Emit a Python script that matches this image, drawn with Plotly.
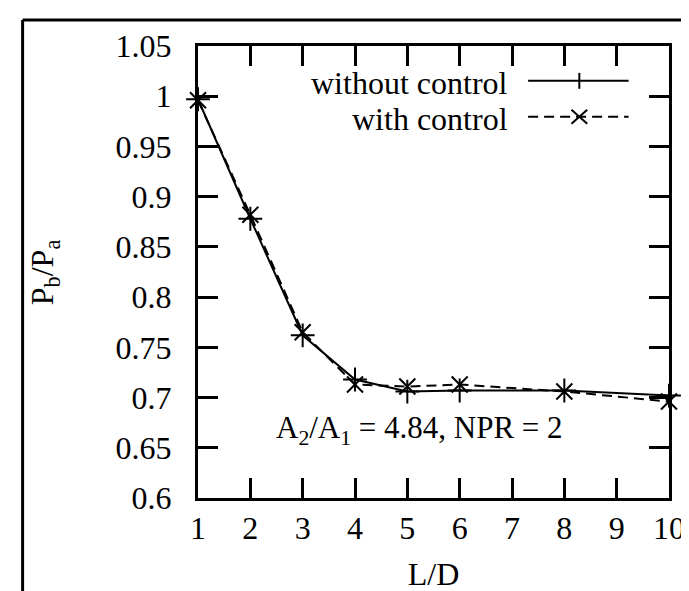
import plotly.graph_objects as go

# ---- data ----
ld = [1, 2, 3, 4, 5, 6, 8, 10]
without_control = [0.997, 0.878, 0.762, 0.718, 0.706, 0.707, 0.707, 0.702]
with_control = [0.996, 0.882, 0.765, 0.713, 0.711, 0.713, 0.706, 0.696]
y_ticks = [0.6, 0.65, 0.7, 0.75, 0.8, 0.85, 0.9, 0.95, 1.0, 1.05]
y_tick_text = ["0.6", "0.65", "0.7", "0.75", "0.8", "0.85", "0.9", "0.95", "1", "1.05"]
x_ticks = [1, 2, 3, 4, 5, 6, 7, 8, 9, 10]

FONT = "Liberation Serif"
W, H = 689, 591
L, R, T, B = 190, 668, 38, 492  # plot area in pixels


def px(x):
    return (x - L) / (R - L)


def py(y):
    return (B - y) / (B - T)


fig = go.Figure()
fig.add_trace(go.Scatter(
    x=ld, y=without_control, mode="lines+markers", name="without control",
    line=dict(color="black", width=2),
    marker=dict(symbol="cross-thin-open", size=17, line=dict(color="black", width=2)),
    showlegend=False, cliponaxis=False))
fig.add_trace(go.Scatter(
    x=ld, y=with_control, mode="lines+markers", name="with control",
    line=dict(color="black", width=2, dash="10px,6px"),
    marker=dict(symbol="x-thin-open", size=16, line=dict(color="black", width=2)),
    showlegend=False, cliponaxis=False))

axis_common = dict(
    showline=True, linecolor="black", linewidth=3, mirror="ticks",
    ticks="inside", ticklen=20, tickwidth=3, tickcolor="black",
    showgrid=False, zeroline=False,
    tickfont=dict(family=FONT, size=32, color="black"),
)

fig.update_xaxes(range=[1, 10], tickvals=x_ticks, **axis_common,
                 title=dict(text="L/D", font=dict(family=FONT, size=32, color="black"), standoff=18))
fig.update_yaxes(range=[0.6, 1.05], tickvals=y_ticks, ticktext=y_tick_text, ticklabelstandoff=17,
                 **axis_common)

shapes = []
# legend samples
ly1, ly2 = 73, 109
shapes.append(dict(type="line", xref="paper", yref="paper", x0=px(525), x1=px(627), y0=py(ly1), y1=py(ly1),
                   line=dict(color="black", width=2)))
shapes.append(dict(type="line", xref="paper", yref="paper", x0=px(577), x1=px(577), y0=py(ly1 - 8), y1=py(ly1 + 8),
                   line=dict(color="black", width=2)))
shapes.append(dict(type="line", xref="paper", yref="paper", x0=px(525), x1=px(627), y0=py(ly2), y1=py(ly2),
                   line=dict(color="black", width=2, dash="10px,6px")))
shapes.append(dict(type="line", xref="paper", yref="paper", x0=px(569), x1=px(585), y0=py(ly2 - 7), y1=py(ly2 + 7),
                   line=dict(color="black", width=2)))
shapes.append(dict(type="line", xref="paper", yref="paper", x0=px(569), x1=px(585), y0=py(ly2 + 7), y1=py(ly2 - 7),
                   line=dict(color="black", width=2)))
# outer frame (left and top edges)
shapes.append(dict(type="line", xref="paper", yref="paper", x0=px(12), x1=px(12), y0=py(12), y1=py(600),
                   line=dict(color="black", width=3)))
shapes.append(dict(type="line", xref="paper", yref="paper", x0=px(12), x1=px(700), y0=py(12), y1=py(12),
                   line=dict(color="black", width=3)))

annotations = [
    dict(xref="paper", yref="paper", x=px(507), y=py(75), xanchor="right", yanchor="middle",
         text="without control", showarrow=False, font=dict(family=FONT, size=32, color="black")),
    dict(xref="paper", yref="paper", x=px(507), y=py(111), xanchor="right", yanchor="middle",
         text="with control", showarrow=False, font=dict(family=FONT, size=32, color="black")),
    dict(xref="paper", yref="paper", x=px(562), y=py(424), xanchor="right", yanchor="middle",
         text="A<sub>2</sub>/A<sub>1</sub> = 4.84, NPR = 2", showarrow=False,
         font=dict(family=FONT, size=31, color="black")),
    # y-axis title
    dict(xref="paper", yref="paper", x=px(34), y=py(265), xanchor="center", yanchor="middle",
         text="P<sub>b</sub>/P<sub>a</sub>", textangle=-90, showarrow=False,
         font=dict(family=FONT, size=32, color="black")),
]

fig.update_layout(
    width=W, height=H,
    margin=dict(l=L, r=W - R, t=T, b=H - B, pad=0),
    paper_bgcolor="white", plot_bgcolor="white",
    shapes=shapes, annotations=annotations,
    showlegend=False,
)

fig.write_html("out.html")
